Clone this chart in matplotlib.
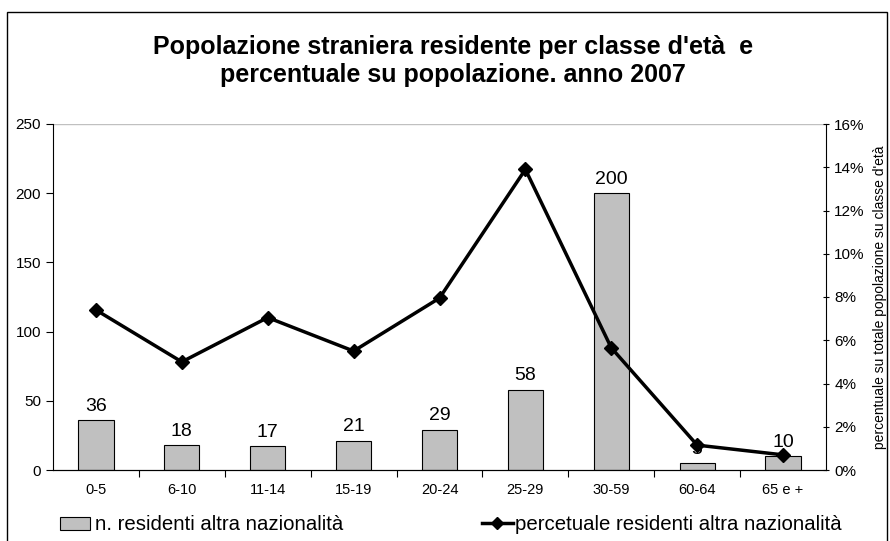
import matplotlib
matplotlib.use("Agg")
import matplotlib.pyplot as plt
from matplotlib.patches import Rectangle, Patch
from matplotlib.lines import Line2D
from matplotlib.ticker import FuncFormatter

plt.rcParams['font.family'] = ['Liberation Sans', 'DejaVu Sans']

categories = ['0-5', '6-10', '11-14', '15-19', '20-24', '25-29', '30-59', '60-64', '65 e +']
residents = [36, 18, 17, 21, 29, 58, 200, 5, 10]
percent = [7.4, 5.0, 7.05, 5.5, 7.95, 13.9, 5.65, 1.15, 0.7]

title = "Popolazione straniera residente per classe d'età  e\npercentuale su popolazione. anno 2007"
bar_label = "n. residenti altra nazionalità"
line_label = "percetuale residenti altra nazionalità"
right_label = "percentuale su totale popolazione su classe d'età"

fig = plt.figure(figsize=(8.9, 5.41), dpi=100)
fig.patches.append(Rectangle((7/890, -0.01), 880/890, 1 - 12/541 + 0.01, transform=fig.transFigure,
                             fill=False, edgecolor='black', linewidth=1.0))

ax = fig.add_axes([53/890, 71/541, 773/890, 346/541])
x = list(range(len(categories)))
ax.bar(x, residents, width=0.41, color='#c0c0c0', edgecolor='black', linewidth=0.8, zorder=2)
for xi, v in zip(x, residents):
    ax.annotate(str(v), (xi, v), xytext=(0, 4), textcoords='offset points',
                ha='center', va='bottom', fontsize=14, zorder=1)
ax.set_xlim(-0.5, len(categories) - 0.5)
ax.set_ylim(0, 250)
ax.set_yticks([0, 50, 100, 150, 200, 250])
ax.axhline(250, color='#c0c0c0', linewidth=1.0, zorder=0)
ax.spines['top'].set_visible(False)
ax.spines['right'].set_visible(False)
ax.set_xticks([i + 0.5 for i in x[:-1]], minor=False)
ax.set_xticklabels([])
ax.set_xticks(x, minor=True)
ax.set_xticklabels(categories, minor=True, fontsize=10.5)
ax.tick_params(axis='x', which='minor', length=0, pad=9)
ax.tick_params(axis='x', which='major', length=5, direction='out')
ax.tick_params(axis='y', labelsize=11, length=5, direction='out')

ax2 = ax.twinx()
ax2.plot(x, percent, color='black', linewidth=2.5, marker='D', markersize=7, zorder=3)
ax2.set_ylim(0, 16)
ax2.set_yticks(range(0, 17, 2))
ax2.yaxis.set_major_formatter(FuncFormatter(lambda v, p: f"{int(v)}%"))
ax2.tick_params(axis='y', labelsize=11, length=5, direction='inout')
ax2.spines['top'].set_visible(False)
ax2.spines['left'].set_visible(False)
ax2.set_ylabel(right_label, fontsize=10, labelpad=6)

fig.text(453/890, 1 - 61/541, title, ha='center', va='center', fontsize=18,
         fontweight='bold', linespacing=1.2)

h1 = [Patch(facecolor='#c0c0c0', edgecolor='black', linewidth=0.8)]
h2 = [Line2D([0], [0], color='black', linewidth=2.5, marker='D', markersize=6)]
fig.legend(h1, [bar_label], loc='center left', bbox_to_anchor=(60/890, 16/541),
           frameon=False, fontsize=14.7, handlelength=1.47, handleheight=0.6,
           handletextpad=0.25, borderaxespad=0, borderpad=0)
fig.legend(h2, [line_label], loc='center left', bbox_to_anchor=(482/890, 16/541),
           frameon=False, fontsize=14.7, handlelength=1.5,
           handletextpad=0.1, borderaxespad=0, borderpad=0)

fig.savefig('out.png', dpi=100)
